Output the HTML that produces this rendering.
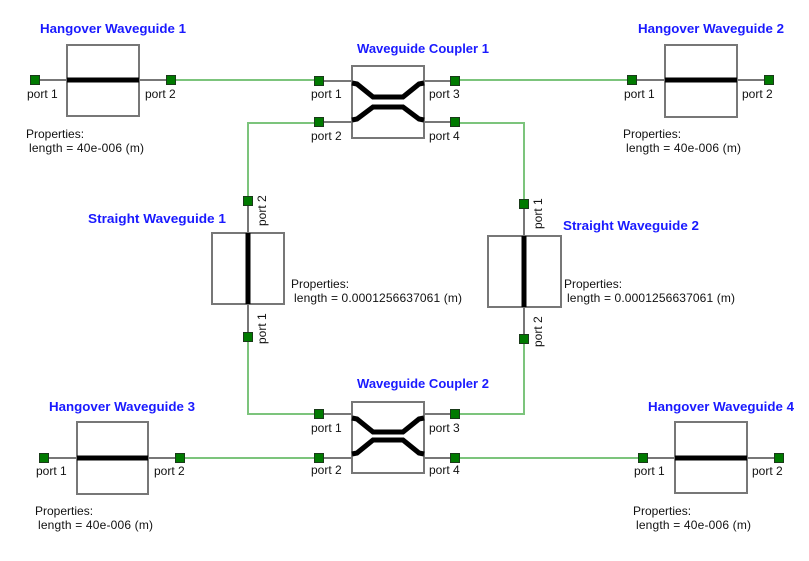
<!DOCTYPE html>
<html><head><style>
html,body{margin:0;padding:0;background:#fff;}
svg{display:block;font-family:"Liberation Sans",sans-serif;}
.t{font-size:13px;font-weight:bold;fill:#1a1aff;}
.l{font-size:12px;fill:#111;}
.g{stroke:#7cc47c;stroke-width:2;fill:none;}
.k{stroke:#777;stroke-width:2;fill:none;}
.b{fill:#fff;stroke:#777;stroke-width:2;}
.w{stroke:#000;stroke-width:5;fill:none;}
.p{fill:#007a00;stroke:#1a3a1a;stroke-width:1;}
</style></head><body>
<svg width="809" height="561" viewBox="0 0 809 561">
<path class="g" d="M171 80H319"/>
<path class="g" d="M455 80H632"/>
<path class="g" d="M319 123H248V201"/>
<path class="g" d="M455 123H524V204"/>
<path class="g" d="M248 337V414H319"/>
<path class="g" d="M524 339V414H455"/>
<path class="g" d="M180 458H319"/>
<path class="g" d="M455 458H643"/>

<path class="k" d="M35 80H171"/>
<rect class="b" x="67" y="45" width="72" height="71"/>
<path class="w" d="M67 80H139"/>
<rect class="p" x="30.5" y="75.5" width="9" height="9"/><rect class="p" x="166.5" y="75.5" width="9" height="9"/>
<text class="t" x="40" y="33" textLength="146" lengthAdjust="spacingAndGlyphs">Hangover Waveguide 1</text>
<text class="l" x="27" y="98">port 1</text><text class="l" x="145" y="98">port 2</text>
<text class="l" x="26" y="138">Properties:</text><text class="l" x="29" y="152" textLength="115">length = 40e-006 (m)</text>

<path class="k" d="M632 80H769"/>
<rect class="b" x="665" y="45" width="72" height="72"/>
<path class="w" d="M665 80H737"/>
<rect class="p" x="627.5" y="75.5" width="9" height="9"/><rect class="p" x="764.5" y="75.5" width="9" height="9"/>
<text class="t" x="638" y="33" textLength="146" lengthAdjust="spacingAndGlyphs">Hangover Waveguide 2</text>
<text class="l" x="624" y="98">port 1</text><text class="l" x="742" y="98">port 2</text>
<text class="l" x="623" y="138">Properties:</text><text class="l" x="626" y="152" textLength="115">length = 40e-006 (m)</text>

<path class="k" d="M319 81H352M319 122H352M424 81H455M424 122H455"/>
<rect class="b" x="352" y="66" width="72" height="72"/>
<path class="w" d="M352 83L357 84L373 97H403L419 84L424 83"/>
<path class="w" d="M352 120L357 119L373 107H403L419 119L424 120"/>
<rect class="p" x="314.5" y="76.5" width="9" height="9"/><rect class="p" x="314.5" y="117.5" width="9" height="9"/>
<rect class="p" x="450.5" y="76.5" width="9" height="9"/><rect class="p" x="450.5" y="117.5" width="9" height="9"/>
<text class="t" x="357" y="53" textLength="132" lengthAdjust="spacingAndGlyphs">Waveguide Coupler 1</text>
<text class="l" x="311" y="98">port 1</text><text class="l" x="311" y="140">port 2</text>
<text class="l" x="429" y="98">port 3</text><text class="l" x="429" y="140">port 4</text>

<path class="k" d="M248 201V337"/>
<rect class="b" x="212" y="233" width="72" height="71"/>
<path class="w" d="M248 233V304"/>
<rect class="p" x="243.5" y="196.5" width="9" height="9"/><rect class="p" x="243.5" y="332.5" width="9" height="9"/>
<text class="t" x="88" y="223" textLength="138" lengthAdjust="spacingAndGlyphs">Straight Waveguide 1</text>
<text class="l" transform="translate(266,226) rotate(-90)">port 2</text>
<text class="l" transform="translate(266,344) rotate(-90)">port 1</text>
<text class="l" x="291" y="288">Properties:</text><text class="l" x="294" y="302" textLength="168">length = 0.0001256637061 (m)</text>

<path class="k" d="M524 204V339"/>
<rect class="b" x="488" y="236" width="73" height="71"/>
<path class="w" d="M524 236V307"/>
<rect class="p" x="519.5" y="199.5" width="9" height="9"/><rect class="p" x="519.5" y="334.5" width="9" height="9"/>
<text class="t" x="563" y="230" textLength="136" lengthAdjust="spacingAndGlyphs">Straight Waveguide 2</text>
<text class="l" transform="translate(542,229) rotate(-90)">port 1</text>
<text class="l" transform="translate(542,347) rotate(-90)">port 2</text>
<text class="l" x="564" y="288">Properties:</text><text class="l" x="567" y="302" textLength="168">length = 0.0001256637061 (m)</text>

<path class="k" d="M319 414H352M319 458H352M424 414H455M424 458H455"/>
<rect class="b" x="352" y="402" width="72" height="71"/>
<path class="w" d="M352 418L357 419L373 432H403L419 419L424 418"/>
<path class="w" d="M352 454L357 453L373 440H403L419 453L424 454"/>
<rect class="p" x="314.5" y="409.5" width="9" height="9"/><rect class="p" x="314.5" y="453.5" width="9" height="9"/>
<rect class="p" x="450.5" y="409.5" width="9" height="9"/><rect class="p" x="450.5" y="453.5" width="9" height="9"/>
<text class="t" x="357" y="388" textLength="132" lengthAdjust="spacingAndGlyphs">Waveguide Coupler 2</text>
<text class="l" x="311" y="432">port 1</text><text class="l" x="311" y="474">port 2</text>
<text class="l" x="429" y="432">port 3</text><text class="l" x="429" y="474">port 4</text>

<path class="k" d="M44 458H180"/>
<rect class="b" x="77" y="422" width="71" height="72"/>
<path class="w" d="M77 458H148"/>
<rect class="p" x="39.5" y="453.5" width="9" height="9"/><rect class="p" x="175.5" y="453.5" width="9" height="9"/>
<text class="t" x="49" y="411" textLength="146" lengthAdjust="spacingAndGlyphs">Hangover Waveguide 3</text>
<text class="l" x="36" y="475">port 1</text><text class="l" x="154" y="475">port 2</text>
<text class="l" x="35" y="515">Properties:</text><text class="l" x="38" y="529" textLength="115">length = 40e-006 (m)</text>

<path class="k" d="M643 458H779"/>
<rect class="b" x="675" y="422" width="72" height="71"/>
<path class="w" d="M675 458H747"/>
<rect class="p" x="638.5" y="453.5" width="9" height="9"/><rect class="p" x="774.5" y="453.5" width="9" height="9"/>
<text class="t" x="648" y="411" textLength="146" lengthAdjust="spacingAndGlyphs">Hangover Waveguide 4</text>
<text class="l" x="634" y="475">port 1</text><text class="l" x="752" y="475">port 2</text>
<text class="l" x="633" y="515">Properties:</text><text class="l" x="636" y="529" textLength="115">length = 40e-006 (m)</text>
</svg>
</body></html>
